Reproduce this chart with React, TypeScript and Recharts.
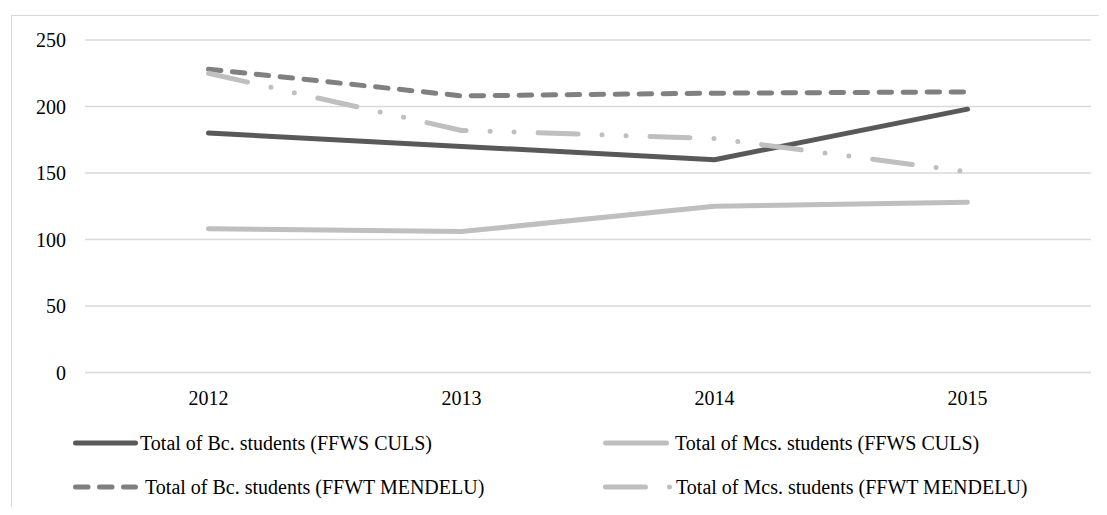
import { CartesianGrid, Legend, Line, LineChart, XAxis, YAxis } from "recharts";

const years = ["2012", "2013", "2014", "2015"];
const bcCuls = [180, 170, 160, 198];
const mcsCuls = [108, 106, 125, 128];
const bcMendelu = [228, 208, 210, 211];
const mcsMendelu = [225, 182, 176, 151];
const yTicks = [0, 50, 100, 150, 200, 250];

const FONT = "Liberation Serif";

const series = [
  { key: "bcCuls", name: "Total of Bc. students (FFWS CULS)", color: "#595959", dash: undefined },
  { key: "mcsCuls", name: "Total of Mcs. students (FFWS CULS)", color: "#bfbfbf", dash: undefined },
  { key: "bcMendelu", name: "Total of Bc. students (FFWT MENDELU)", color: "#808080", dash: "12.5 11.5" },
  { key: "mcsMendelu", name: "Total of Mcs. students (FFWT MENDELU)", color: "#bfbfbf", dash: "40 24 0 24 0 24" },
];

const chartData = years.map((year, i) => ({
  year,
  bcCuls: bcCuls[i],
  mcsCuls: mcsCuls[i],
  bcMendelu: bcMendelu[i],
  mcsMendelu: mcsMendelu[i],
}));

// legend sample placement: [lineStart, lineEnd, textX, rowY]
const legendPos = [
  [67.5, 127.5, 132, 22],
  [597.5, 658.5, 667, 22],
  [67.5, 127.5, 137, 66],
  [597.5, 663, 668, 66],
];

function ChartLegend() {
  return (
    <svg width={1091} height={80} style={{ display: "block" }}>
      {series.map((s, i) => {
        const [x1, x2, tx, y] = legendPos[i];
        return (
          <g key={s.key}>
            <line
              x1={x1}
              x2={x2}
              y1={y}
              y2={y}
              stroke={s.color}
              strokeWidth={5}
              strokeLinecap="round"
              strokeDasharray={s.dash}
            />
            <text x={tx} y={y} dy="0.35em" style={{ fontFamily: FONT }} fontSize={20} fill="#000">
              {s.name}
            </text>
          </g>
        );
      })}
    </svg>
  );
}

export default function App() {
  return (
    <div style={{ position: "relative", width: 1091, height: 499, fontFamily: FONT }}>
      <style>{"html,body{overflow:hidden} .recharts-text{font-family:'Liberation Serif'}"}</style>
      <div
        style={{
          position: "absolute",
          left: 3,
          top: 7,
          right: -8,
          bottom: -8,
          borderLeft: "1px solid #d9d9d9",
          borderTop: "1px solid #d9d9d9",
        }}
      />
      <LineChart
        width={1091}
        height={499}
        data={chartData}
        margin={{ top: 32, right: 8, left: 0, bottom: 6 }}
        style={{ position: "relative", fontFamily: FONT }}
      >
        <CartesianGrid vertical={false} stroke="#d9d9d9" strokeWidth={1.3} />
        <XAxis
          dataKey="year"
          axisLine={false}
          tickLine={false}
          tickSize={0}
          tickMargin={18}
          height={48.5}
          padding={{ left: 123.5, right: 123.5 }}
          tick={{ fontSize: 20, fill: "#000", fontFamily: FONT }}
        />
        <YAxis
          domain={[0, 250]}
          ticks={yTicks}
          axisLine={false}
          tickLine={false}
          tickSize={0}
          tickMargin={19}
          width={77}
          tick={{ fontSize: 20, fill: "#000", fontFamily: FONT }}
        />
        <Legend verticalAlign="bottom" content={() => <ChartLegend />} />
        {series.map((s) => (
          <Line
            key={s.key}
            type="linear"
            dataKey={s.key}
            name={s.name}
            stroke={s.color}
            strokeWidth={5}
            strokeDasharray={s.dash}
            strokeLinecap="round"
            strokeLinejoin="round"
            dot={false}
            activeDot={false}
            isAnimationActive={false}
          />
        ))}
      </LineChart>
    </div>
  );
}
